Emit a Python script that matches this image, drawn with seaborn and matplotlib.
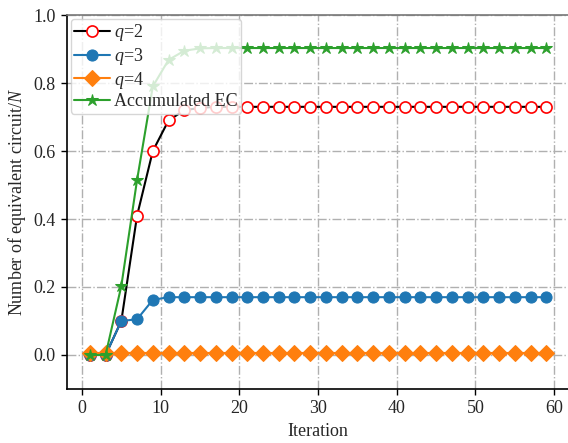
import matplotlib
matplotlib.use("Agg")
import matplotlib.pyplot as plt
import seaborn as sns
import numpy as np
import pandas as pd

iterations = list(range(1, 60, 2))
q2 = [0.0, 0.0, 0.10, 0.41, 0.60, 0.69, 0.72, 0.727] + [0.73] * 22
q3 = [0.0, 0.0, 0.10, 0.105, 0.162, 0.17] + [0.17] * 24
q4 = [0.005] * 30
ec = [0.0, 0.0, 0.203, 0.515, 0.79, 0.868, 0.895, 0.902] + [0.903] * 22

sns.set_theme(style="white")
plt.rcParams['font.family'] = ['Liberation Serif', 'DejaVu Serif']
plt.rcParams['mathtext.fontset'] = 'custom'
plt.rcParams['mathtext.rm'] = 'Liberation Serif'
plt.rcParams['mathtext.it'] = 'Liberation Serif:italic'

fig = plt.figure(figsize=(5.68, 4.43), dpi=100)
ax = fig.add_axes([0.118, 0.122, 0.884, 0.844])

df = pd.DataFrame({"it": iterations, "q2": q2, "q3": q3, "q4": q4, "ec": ec})

sns.lineplot(data=df, x="it", y="q2", ax=ax, color="black", lw=1.5,
             marker="o", markersize=8, markerfacecolor="white",
             markeredgecolor="red", markeredgewidth=1.2, label="$q$=2")
sns.lineplot(data=df, x="it", y="q3", ax=ax, color="#1f77b4", lw=1.5,
             marker="o", markersize=8, markeredgecolor="#1f77b4", label="$q$=3")
sns.lineplot(data=df, x="it", y="q4", ax=ax, color="#ff7f0e", lw=1.5,
             marker="D", markersize=8, markeredgecolor="#ff7f0e", label="$q$=4")
sns.lineplot(data=df, x="it", y="ec", ax=ax, color="#2ca02c", lw=1.5,
             marker="*", markersize=9, markeredgecolor="#2ca02c", label="Accumulated EC")

ax.set_xlim(-1.9, 61.9)
ax.set_ylim(-0.1, 1.0)
ax.set_xticks([0, 10, 20, 30, 40, 50, 60])
ax.set_yticks([0.0, 0.2, 0.4, 0.6, 0.8, 1.0])
ax.set_yticklabels(["0.0", "0.2", "0.4", "0.6", "0.8", "1.0"])
ax.grid(True, linestyle="-.", color="#b0b0b0", lw=1.0)
ax.tick_params(axis="both", labelsize=13, direction="out", length=4,
               width=1, color="black", left=True, bottom=True, pad=4)
for s in ["left", "bottom"]:
    ax.spines[s].set_color("black")
    ax.spines[s].set_linewidth(1.2)
ax.spines["top"].set_color("#777777")
ax.spines["top"].set_linewidth(1.2)
ax.spines["right"].set_visible(False)

ax.set_xlabel("Iteration", fontsize=13)
ax.set_ylabel("Number of equivalent circuit/$N$", fontsize=13)

leg = ax.legend(loc="upper left", fontsize=13, frameon=True, framealpha=0.8,
                borderpad=0.2, labelspacing=0.15, handlelength=2.0,
                handletextpad=0.2, borderaxespad=0.2, fancybox=True)
leg.get_frame().set_edgecolor("#cccccc")

fig.savefig("out.png", dpi=100)
